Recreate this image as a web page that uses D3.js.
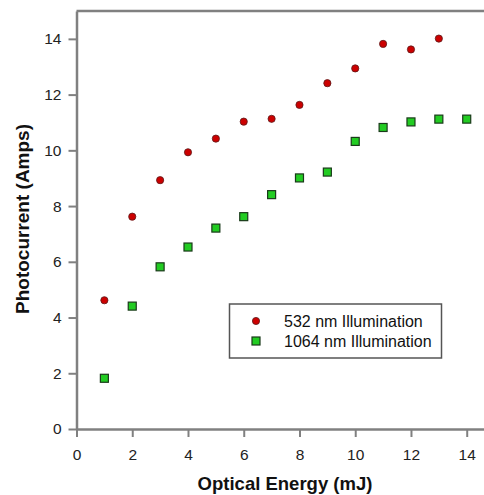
<!DOCTYPE html>
<html>
<head>
<meta charset="utf-8">
<script src="https://cdn.jsdelivr.net/npm/d3@7"></script>
<style>
  body { margin: 0; background: #fff; }
  svg { display: block; font-family: Arial, "Liberation Sans", sans-serif; }
</style>
</head>
<body>
<svg width="484" height="495"></svg>
<script>
// data
let energy532 = [1, 2, 3, 4, 5, 6, 7, 8, 9, 10, 11, 12, 13];
let current532 = [4.62, 7.62, 8.93, 9.93, 10.42, 11.03, 11.13, 11.63, 12.41, 12.94, 13.82, 13.62, 14.01];
let energy1064 = [1, 2, 3, 4, 5, 6, 7, 8, 9, 10, 11, 12, 13, 14];
let current1064 = [1.82, 4.41, 5.82, 6.53, 7.21, 7.62, 8.41, 9.01, 9.22, 10.32, 10.82, 11.02, 11.12, 11.12];
let xTicks = [0, 2, 4, 6, 8, 10, 12, 14];
let yTicks = [0, 2, 4, 6, 8, 10, 12, 14];
let seriesNames = ["532 nm Illumination", "1064 nm Illumination"];

let svg = d3.select("svg");
let axisColor = "#808080";

let x = d3.scaleLinear().domain([0, 14.62]).range([76.5, 484]);
let y = d3.scaleLinear().domain([0, 15]).range([429, 11]);

// top frame line
svg.append("line")
    .attr("x1", x(0)).attr("x2", 484)
    .attr("y1", y(15)).attr("y2", y(15))
    .attr("stroke", axisColor).attr("stroke-width", 2.5);

let xAxis = svg.append("g")
    .attr("transform", "translate(0," + y(0) + ")")
    .call(d3.axisBottom(x).tickValues(xTicks).tickSize(8).tickPadding(12).tickSizeOuter(0));
let yAxis = svg.append("g")
    .attr("transform", "translate(" + x(0) + ",0)")
    .call(d3.axisLeft(y).tickValues(yTicks).tickSize(8).tickPadding(7).tickSizeOuter(0));

[xAxis, yAxis].forEach(function(a) {
    a.select(".domain").attr("stroke", axisColor).attr("stroke-width", 2.5);
    a.selectAll(".tick line").attr("stroke", axisColor).attr("stroke-width", 2);
    a.selectAll(".tick text")
	.attr("fill", "#222")
	.style("font-size", "15.5px")
	.style("font-family", "Arial, 'Liberation Sans', sans-serif");
});

// axis titles
svg.append("text")
    .attr("x", 285).attr("y", 490)
    .attr("text-anchor", "middle")
    .style("font-size", "18.5px").style("font-weight", "bold")
    .attr("fill", "#111")
    .text("Optical Energy (mJ)");

svg.append("text")
    .attr("transform", "translate(29,219) rotate(-90)")
    .attr("text-anchor", "middle")
    .style("font-size", "19px").style("font-weight", "bold")
    .attr("fill", "#111")
    .text("Photocurrent (Amps)");

// points
svg.append("g").selectAll("circle")
    .data(energy532.map(function(d, i) { return [d, current532[i]]; }))
    .enter().append("circle")
    .attr("cx", function(d) { return x(d[0]); })
    .attr("cy", function(d) { return y(d[1]); })
    .attr("r", 3.6)
    .attr("fill", "#cc0000")
    .attr("stroke", "#5a1a1a").attr("stroke-width", 0.8);

svg.append("g").selectAll("rect")
    .data(energy1064.map(function(d, i) { return [d, current1064[i]]; }))
    .enter().append("rect")
    .attr("x", function(d) { return x(d[0]) - 4; })
    .attr("y", function(d) { return y(d[1]) - 4; })
    .attr("width", 8).attr("height", 8)
    .attr("fill", "#22cc22")
    .attr("stroke", "#1a3a1a").attr("stroke-width", 1.2);

// legend
let legend = svg.append("g");
legend.append("rect")
    .attr("x", 229.5).attr("y", 304)
    .attr("width", 212).attr("height", 54)
    .attr("fill", "#fff")
    .attr("stroke", "#555").attr("stroke-width", 1.5);
legend.append("circle")
    .attr("cx", 256).attr("cy", 321).attr("r", 3.6)
    .attr("fill", "#cc0000").attr("stroke", "#5a1a1a").attr("stroke-width", 0.8);
legend.append("rect")
    .attr("x", 252).attr("y", 337).attr("width", 8).attr("height", 8)
    .attr("fill", "#22cc22").attr("stroke", "#1a3a1a").attr("stroke-width", 1.2);
legend.selectAll("text.lab")
    .data(seriesNames)
    .enter().append("text")
    .attr("class", "lab")
    .attr("x", 284)
    .attr("y", function(d, i) { return 327 + i * 19.5; })
    .style("font-size", "16px")
    .attr("fill", "#111")
    .text(function(d) { return d; });
</script>
</body>
</html>
